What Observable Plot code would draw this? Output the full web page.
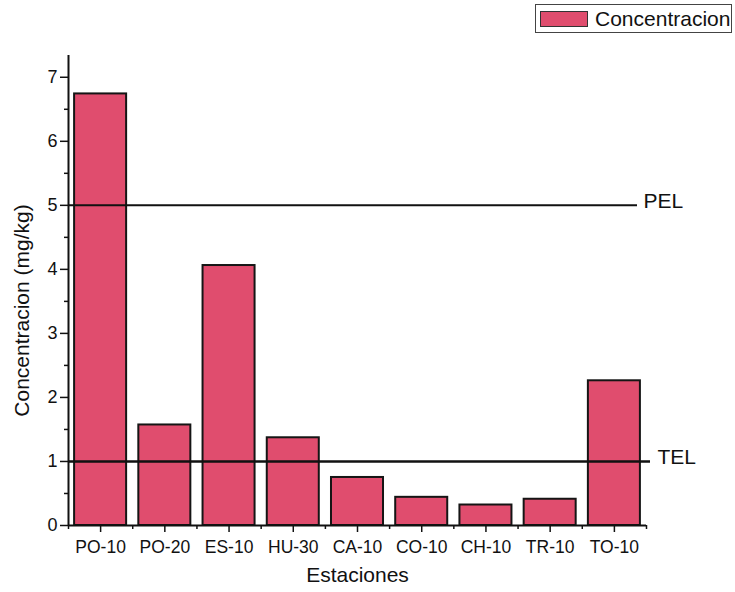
<!DOCTYPE html>
<html>
<head>
<meta charset="utf-8">
<script src="https://cdn.jsdelivr.net/npm/d3@7"></script>
<script src="https://cdn.jsdelivr.net/npm/@observablehq/plot@0.6"></script>
<style>
  body { margin: 0; background: #fff; font-family: "Liberation Sans", Arial, sans-serif; }
  #chart { position: relative; width: 735px; height: 592px; }
  .key {
    position: absolute; left: 535px; top: 4px; width: 197px; height: 29px;
    box-sizing: border-box; border: 1px solid #444; background: #fff;
    display: flex; align-items: center; padding-left: 4px;
    font-size: 21px; color: #111; white-space: nowrap;
  }
  .key .sw {
    width: 48px; height: 16px; box-sizing: border-box;
    border: 1px solid #333; margin-right: 7px; flex: none;
  }
</style>
</head>
<body>
<div id="chart"></div>
<script>
// Concentration per sampling station (mg/kg)
const stations = ["PO-10", "PO-20", "ES-10", "HU-30", "CA-10", "CO-10", "CH-10", "TR-10", "TO-10"];
const values   = [6.74, 1.57, 4.06, 1.37, 0.75, 0.44, 0.32, 0.41, 2.26];

// Sediment quality guideline levels
const guideNames  = ["PEL", "TEL"];
const guideValues = [5, 1];

// Axis ticks
const yTicks = [0, 1, 2, 3, 4, 5, 6, 7];
const yMinorTicks = [0.5, 1.5, 2.5, 3.5, 4.5, 5.5, 6.5];

const seriesName = "Concentracion";
const barColor = "#e04d6e";

const rows = stations.map((s, i) => ({ station: s, pos: i + 1, value: values[i] }));
const guides = guideNames.map((n, i) => ({ name: n, value: guideValues[i] }));
const xTicks = rows.map(d => d.pos);
const xBoundaries = [0, ...xTicks].map(p => p + 0.5);
const halfBar = 0.405;

const font = `"Liberation Sans", Arial, sans-serif`;

const chart = Plot.plot({
  width: 735,
  height: 592,
  marginLeft: 68,
  marginRight: 89,
  marginTop: 55,
  marginBottom: 67,
  style: { fontFamily: font, fontSize: "18px", color: "#111", background: "#fff", overflow: "visible" },
  x: { domain: [0.5, stations.length + 0.5] },
  y: { domain: [0, 7.34] },
  marks: [
    Plot.rectY(rows, {
      x1: d => d.pos - halfBar,
      x2: d => d.pos + halfBar,
      y: "value",
      fill: barColor,
      stroke: "#151515",
      strokeWidth: 2
    }),
    // PEL / TEL reference lines
    Plot.ruleY(guides.filter(d => d.name === "PEL"), { y: "value", stroke: "#111", strokeWidth: 2, insetRight: 9 }),
    Plot.ruleY(guides.filter(d => d.name === "TEL"), { y: "value", stroke: "#111", strokeWidth: 2.5, insetRight: -4 }),
    Plot.text(guides.filter(d => d.name === "PEL"), {
      y: "value", text: "name", frameAnchor: "right", textAnchor: "start",
      dx: -3, dy: -4, fontSize: 21, fill: "#111"
    }),
    Plot.text(guides.filter(d => d.name === "TEL"), {
      y: "value", text: "name", frameAnchor: "right", textAnchor: "start",
      dx: 11, dy: -4, fontSize: 21, fill: "#111"
    }),
    // axis lines
    Plot.ruleX([0.5], { stroke: "#111", strokeWidth: 2 }),
    Plot.ruleY([0], { stroke: "#111", strokeWidth: 2 }),
    // y axis
    Plot.axisY(yTicks, { tickSize: 8, tickPadding: 3, tickFormat: "d", label: null, fontSize: 18, strokeWidth: 1.5 }),
    Plot.axisY(yMinorTicks, { tickSize: 4, tickFormat: () => "", label: null, strokeWidth: 1.5 }),
    // x axis
    Plot.axisX(xTicks, {
      tickSize: 7, tickPadding: 8, label: null, fontSize: 17.5, strokeWidth: 1.5,
      tickFormat: p => stations[p - 1]
    }),
    Plot.axisX(xBoundaries, { tickSize: 4, tickFormat: () => "", label: null, strokeWidth: 1.5 }),
    // axis titles
    Plot.text(["Estaciones"], { frameAnchor: "bottom", dy: 56, fontSize: 21, fill: "#111" }),
    Plot.text(["Concentracion (mg/kg)"], {
      frameAnchor: "left", textAnchor: "middle", rotate: -90,
      dx: -46, dy: 20, fontSize: 21, fill: "#111"
    })
  ]
});

const host = document.getElementById("chart");
host.appendChild(chart);

const key = document.createElement("div");
key.className = "key";
const sw = document.createElement("span");
sw.className = "sw";
sw.style.background = barColor;
key.appendChild(sw);
key.appendChild(document.createTextNode(seriesName));
host.appendChild(key);
</script>
</body>
</html>
